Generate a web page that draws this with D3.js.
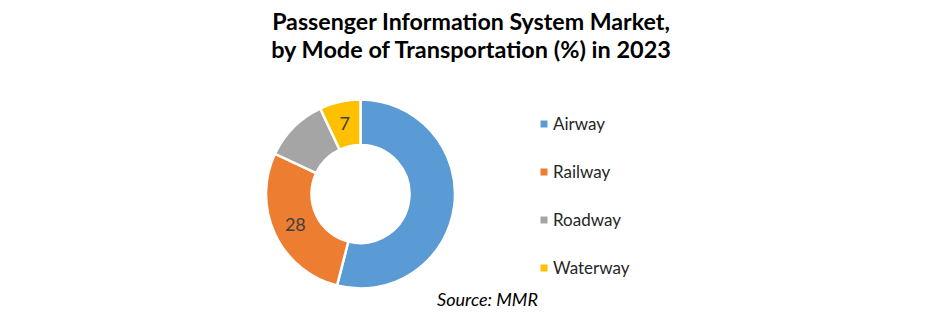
<!DOCTYPE html>
<html><head><meta charset="utf-8">
<script src="https://cdn.jsdelivr.net/npm/d3@7"></script>
<style>body{margin:0;background:#fff}svg{display:block}</style>
</head><body>
<svg id="c" width="940" height="324"></svg>
<script>
const categories = ["Airway", "Railway", "Roadway", "Waterway"];
const values = [54, 28, 11, 7];
const shownLabels = [false, true, false, true];
const colors = ["#5B9BD5", "#ED7D31", "#A5A5A5", "#FFC000"];
const titleLines = ["Passenger Information System Market,", "by Mode of Transportation (%) in 2023"];
const sourceText = "Source: MMR";

const svg = d3.select("#c");
const font = "Lato, 'Open Sans', sans-serif";

function fit(sel, base, target) {
  const w = sel.node().getComputedTextLength();
  sel.attr("font-size", base * target / w);
}

// Title
titleLines.forEach((t, i) => {
  const tx = svg.append("text").attr("x", 471).attr("y", 30 + i * 28)
    .attr("text-anchor", "middle").attr("font-family", font)
    .attr("font-weight", "bold").attr("font-size", 20).attr("fill", "#000").text(t);
  fit(tx, 20, i === 0 ? 398 : 400);
});

// Donut
const cx = 360.5, cy = 194, rOuter = 94.5, rInner = 49;
const pie = d3.pie().sort(null).value(d => d.v);
const data = categories.map((c, i) => ({c, v: values[i], show: shownLabels[i], color: colors[i]}));
const arcs = pie(data);
const arc = d3.arc().innerRadius(rInner).outerRadius(rOuter);
const labelArc = d3.arc().innerRadius(72).outerRadius(72);
const g = svg.append("g").attr("transform", `translate(${cx},${cy})`);
g.selectAll("path").data(arcs).join("path")
  .attr("d", arc).attr("fill", d => d.data.color)
  .attr("stroke", "#fff").attr("stroke-width", 2.5);
g.selectAll("text").data(arcs.filter(d => d.data.show)).join("text")
  .attr("transform", d => `translate(${labelArc.centroid(d)})`)
  .attr("text-anchor", "middle").attr("dy", "0.36em")
  .attr("font-family", font).attr("font-size", 18).attr("fill", "#404040")
  .text(d => d.data.v);

// Legend
const ly = d3.scalePoint().domain(categories).range([124, 268]);
categories.forEach((c, i) => {
  svg.append("rect").attr("x", 540.5).attr("y", ly(c) - 3.5).attr("width", 7).attr("height", 7).attr("fill", colors[i]);
  svg.append("text").attr("x", 553).attr("y", ly(c)).attr("dy", "0.36em")
    .attr("font-family", font).attr("font-size", 17).attr("fill", "#262626").text(c);
});

// Source
const src = svg.append("text").attr("x", 487.5).attr("y", 306).attr("text-anchor", "middle")
  .attr("font-family", font).attr("font-style", "italic").attr("font-size", 15)
  .attr("fill", "#000").text(sourceText);
fit(src, 15, 101);
</script>
</body></html>
